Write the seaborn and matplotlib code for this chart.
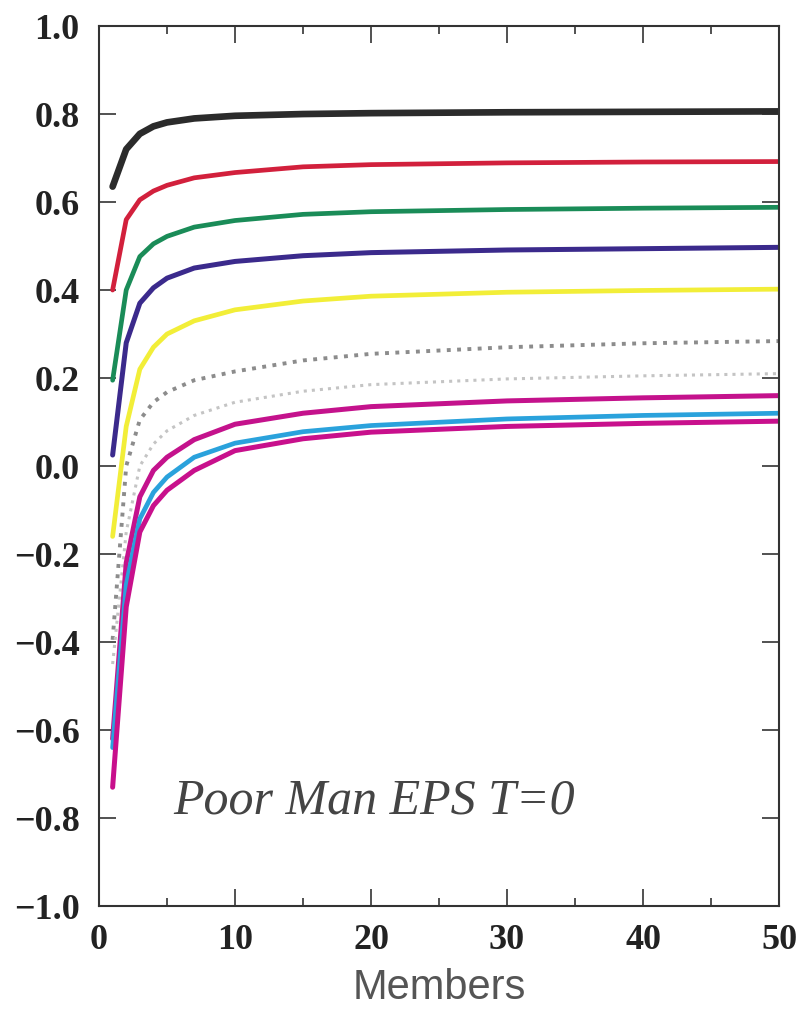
import pandas as pd
import matplotlib
matplotlib.use("Agg")
import matplotlib.pyplot as plt
from matplotlib.ticker import MultipleLocator, FuncFormatter
import seaborn as sns

# --- data --------------------------------------------------------------------
members = [1, 2, 3, 4, 5, 7, 10, 15, 20, 30, 40, 50]

black   = [0.635, 0.72, 0.755, 0.772, 0.781, 0.790, 0.796, 0.800, 0.802, 0.804, 0.805, 0.806]
red     = [0.400, 0.56, 0.605, 0.625, 0.638, 0.655, 0.667, 0.680, 0.685, 0.689, 0.691, 0.692]
green   = [0.195, 0.40, 0.476, 0.505, 0.522, 0.543, 0.558, 0.572, 0.578, 0.583, 0.586, 0.588]
blue    = [0.025, 0.28, 0.370, 0.405, 0.427, 0.450, 0.465, 0.478, 0.485, 0.491, 0.494, 0.497]
yellow  = [-0.16, 0.09, 0.220, 0.270, 0.300, 0.330, 0.355, 0.375, 0.386, 0.395, 0.399, 0.402]
grey1   = [-0.395, 0.0, 0.105, 0.145, 0.168, 0.195, 0.215, 0.240, 0.255, 0.270, 0.279, 0.284]
grey2   = [-0.45, -0.15, 0.0, 0.050, 0.080, 0.115, 0.145, 0.170, 0.185, 0.198, 0.205, 0.210]
magenta1 = [-0.62, -0.22, -0.07, -0.010, 0.020, 0.060, 0.095, 0.120, 0.135, 0.148, 0.155, 0.160]
cyan    = [-0.64, -0.27, -0.12, -0.060, -0.025, 0.020, 0.052, 0.078, 0.092, 0.107, 0.115, 0.120]
magenta2 = [-0.73, -0.32, -0.15, -0.090, -0.055, -0.010, 0.035, 0.062, 0.077, 0.090, 0.097, 0.102]

series = {
    "black": black, "red": red, "green": green, "blue": blue, "yellow": yellow,
    "grey1": grey1, "grey2": grey2, "magenta1": magenta1, "cyan": cyan,
    "magenta2": magenta2,
}

# look of each curve: colour, width, linestyle
styles = {
    "black":    ("#2b2b2b", 4.8, "-"),
    "red":      ("#d2203c", 3.4, "-"),
    "green":    ("#1a8c58", 3.4, "-"),
    "blue":     ("#3b2a8c", 3.6, "-"),
    "yellow":   ("#f2ee38", 3.4, "-"),
    "grey1":    ("#8c8c8c", 2.8, ":"),
    "grey2":    ("#c4c4c4", 2.2, ":"),
    "magenta1": ("#c4128c", 3.6, "-"),
    "cyan":     ("#2aa2dc", 3.4, "-"),
    "magenta2": ("#c8108c", 3.6, "-"),
}

df = pd.DataFrame([
    {"Members": m, "Score": v, "curve": name}
    for name, vals in series.items() for m, v in zip(members, vals)
])

# --- plot --------------------------------------------------------------------
sns.set_style("ticks")
plt.rcParams["font.family"] = ["Liberation Serif", "DejaVu Serif"]

fig = plt.figure(figsize=(8.09, 10.13), dpi=100)
ax = fig.add_axes([0.1224, 0.1056, 0.8406, 0.8687])

for name in series:
    color, lw, ls = styles[name]
    sns.lineplot(data=df[df["curve"] == name], x="Members", y="Score",
                 color=color, linewidth=lw, linestyle=ls, ax=ax,
                 solid_capstyle="round")

ax.set_xlim(0, 50)
ax.set_ylim(-1.0, 1.0)
ax.xaxis.set_major_locator(MultipleLocator(10))
ax.xaxis.set_minor_locator(MultipleLocator(5))
ax.yaxis.set_major_locator(MultipleLocator(0.2))
ax.yaxis.set_major_formatter(
    FuncFormatter(lambda v, p: f"{v:.1f}".replace("-", "\u2212")))

ax.tick_params(axis="both", which="both", direction="in",
               top=True, right=True, color="#333333", width=1.2)
ax.tick_params(axis="both", which="major", length=12)
ax.tick_params(axis="both", which="minor", length=6)
ax.tick_params(axis="x", which="major", pad=13)
ax.tick_params(axis="y", which="major", pad=14)
for lab in ax.get_xticklabels() + ax.get_yticklabels():
    lab.set_fontsize(26)
    lab.set_fontweight("bold")
    lab.set_color("#222222")

for sp in ax.spines.values():
    sp.set_linewidth(1.5)
    sp.set_color("#333333")

ax.set_ylabel("")
ax.set_xlabel("Members", family="Liberation Sans", fontsize=30,
              color="#555555", labelpad=8)

ax.text(5.45, -0.79, "Poor Man EPS T=0", fontsize=36, style="italic",
        color="#444444", ha="left", va="baseline")

fig.savefig("out.png", dpi=100)
